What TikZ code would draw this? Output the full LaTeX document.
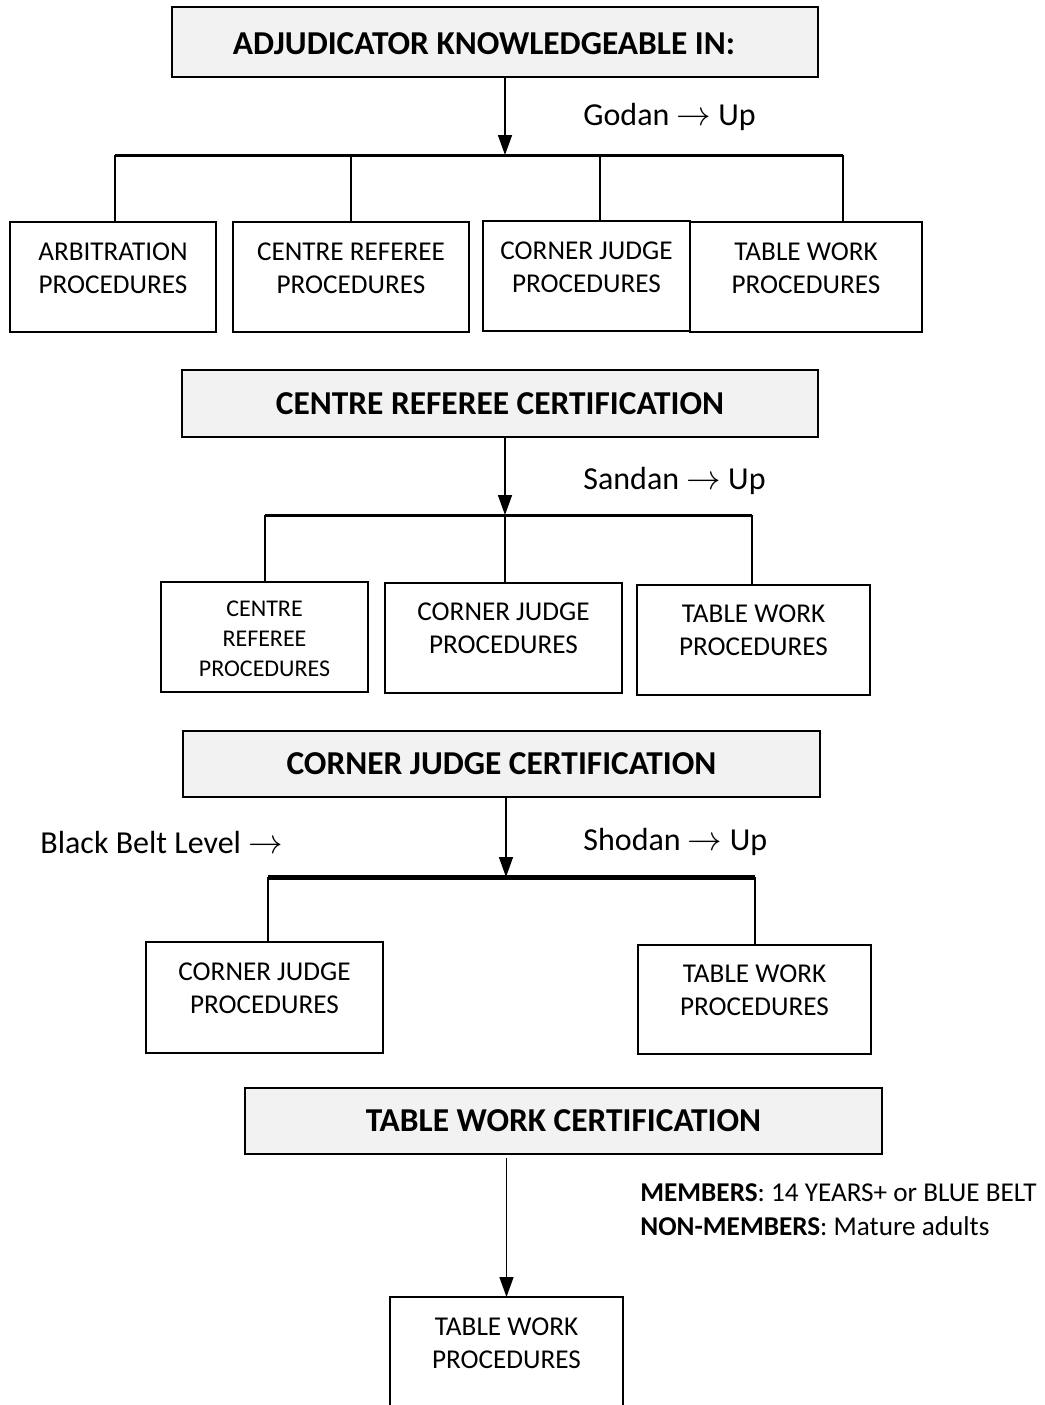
\documentclass[tikz,border=0pt]{standalone}
\usepackage{fontspec}
\setmainfont{Carlito}
\usetikzlibrary{arrows.meta}
\definecolor{certgray}{HTML}{F2F2F2}

\begin{document}
\begin{tikzpicture}[x=0.5pt, y=-0.5pt,
    certbox/.style={draw, line width=1pt, fill=certgray, inner sep=0pt, outer sep=0pt,
      minimum height=33.5pt, font=\fontsize{16.7}{20}\selectfont\bfseries},
    framebox/.style={draw, line width=1pt, inner sep=0pt, outer sep=0pt, minimum height=55pt},
    proctext/.style={align=center, inner sep=0pt, yshift=4.5pt, font=\fontsize{13.6}{16.5}\selectfont},
    procbox/.style={framebox, label={[proctext]center:#1}},
    flow/.style={line width=0.75pt, -{Triangle[width=7pt,length=10pt]}},
    bar/.style={line width=1.5pt},
    stem/.style={line width=0.75pt},
    level/.style={anchor=west, inner sep=0pt, font=\fontsize{16}{19}\selectfont},
    note/.style={anchor=west, inner sep=0pt, font=\fontsize{13.6}{16.5}\selectfont}]
    \useasboundingbox (0,0) rectangle (1045,1405);

    % adjudicator
    \node[certbox, minimum width=323pt, minimum height=35pt] (adj) at (495,42) {};
    \node[inner sep=0pt, font=\fontsize{16.7}{20}\selectfont\bfseries] (adjtext) at (484,44) {ADJUDICATOR KNOWLEDGEABLE IN:};
    \coordinate (hub1) at (505,155);
    \coordinate (bar1w) at (115,155);
    \coordinate (bar1e) at (843,155);
    \coordinate (bar1b) at (351,155);
    \coordinate (bar1c) at (600,155);
    \draw[flow] (adj.south -| hub1) -- (hub1);
    \node[level] (godan) at (583,117) {Godan $\rightarrow$ Up};
    \draw[bar] (bar1w) -- (bar1e);
    \node[procbox={ARBITRATION\\PROCEDURES}, minimum width=103pt] (arb1) at (113,277) {};
    \node[procbox={CENTRE REFEREE\\PROCEDURES}, minimum width=118pt] (crp1) at (351,277) {};
    \node[procbox={CORNER JUDGE\\PROCEDURES}, minimum width=103.5pt] (cjp1) at (586.5,276) {};
    \node[procbox={TABLE WORK\\PROCEDURES}, minimum width=116pt] (twp1) at (806,277) {};
    \draw[stem] (bar1w) -- (bar1w |- arb1.north);
    \draw[stem] (bar1b) -- (bar1b |- crp1.north);
    \draw[stem] (bar1c) -- (bar1c |- cjp1.north);
    \draw[stem] (bar1e) -- (bar1e |- twp1.north);

    % centre referee
    \node[certbox, minimum width=318pt] (crc) at (500,403.5) {CENTRE REFEREE CERTIFICATION};
    \coordinate (hub2) at (505,515);
    \coordinate (bar2w) at (265,515);
    \coordinate (bar2e) at (752,515);
    \draw[flow] (crc.south -| hub2) -- (hub2);
    \node[level] (sandan) at (583,481) {Sandan $\rightarrow$ Up};
    \draw[bar] (bar2w) -- (bar2e);
    \node[framebox, minimum width=103.5pt,
      label={[proctext, yshift=-5.5pt, font=\fontsize{12}{15}\selectfont]center:CENTRE\\REFEREE\\PROCEDURES}] (crp2) at (264.5,637) {};
    \node[procbox={CORNER JUDGE\\PROCEDURES}, minimum width=118.5pt] (cjp2) at (503.5,637.5) {};
    \node[procbox={TABLE WORK\\PROCEDURES}, minimum width=116.5pt] (twp2) at (753.5,639.5) {};
    \draw[stem] (bar2w) -- (bar2w |- crp2.north);
    \draw[stem] (hub2) -- (hub2 |- cjp2.north);
    \draw[stem] (bar2e) -- (bar2e |- twp2.north);

    % corner judge
    \node[certbox, minimum width=318.5pt, minimum height=33pt] (cjc) at (501.5,764) {CORNER JUDGE CERTIFICATION};
    \coordinate (hub3) at (506,877);
    \coordinate (bar3w) at (268,877);
    \coordinate (bar3e) at (755,877);
    \draw[flow] (cjc.south -| hub3) -- (hub3);
    \node[level] (blackbelt) at (40,842) {Black Belt Level $\rightarrow$};
    \node[level] (shodan) at (583,842) {Shodan $\rightarrow$ Up};
    \draw[line width=2.5pt] (bar3w) -- (bar3e);
    \node[procbox={CORNER JUDGE\\PROCEDURES}, minimum width=118.5pt, minimum height=55.5pt] (cjp3) at (264.5,997.5) {};
    \node[procbox={TABLE WORK\\PROCEDURES}, minimum width=116.5pt, minimum height=54.5pt] (twp3) at (754.5,999.5) {};
    \draw[stem] (bar3w) -- (bar3w |- cjp3.north);
    \draw[stem] (bar3e) -- (bar3e |- twp3.north);

    % table work
    \node[certbox, minimum width=318.5pt, minimum height=33pt] (twc) at (563.5,1121) {TABLE WORK CERTIFICATION};
    \node[note] (members) at (640,1193) {\textbf{MEMBERS}: 14 YEARS+ or BLUE BELT};
    \node[note] (nonmembers) at (640,1226) {\textbf{NON-MEMBERS}: Mature adults};
    \node[framebox, minimum width=116.5pt, minimum height=60pt,
      label={[proctext, yshift=2.5pt]center:TABLE WORK\\PROCEDURES}] (twp4) at (506.5,1357) {};
    \draw[flow] ([yshift=-2pt]twc.south -| twp4.north) -- (twp4.north);
\end{tikzpicture}
\end{document}
